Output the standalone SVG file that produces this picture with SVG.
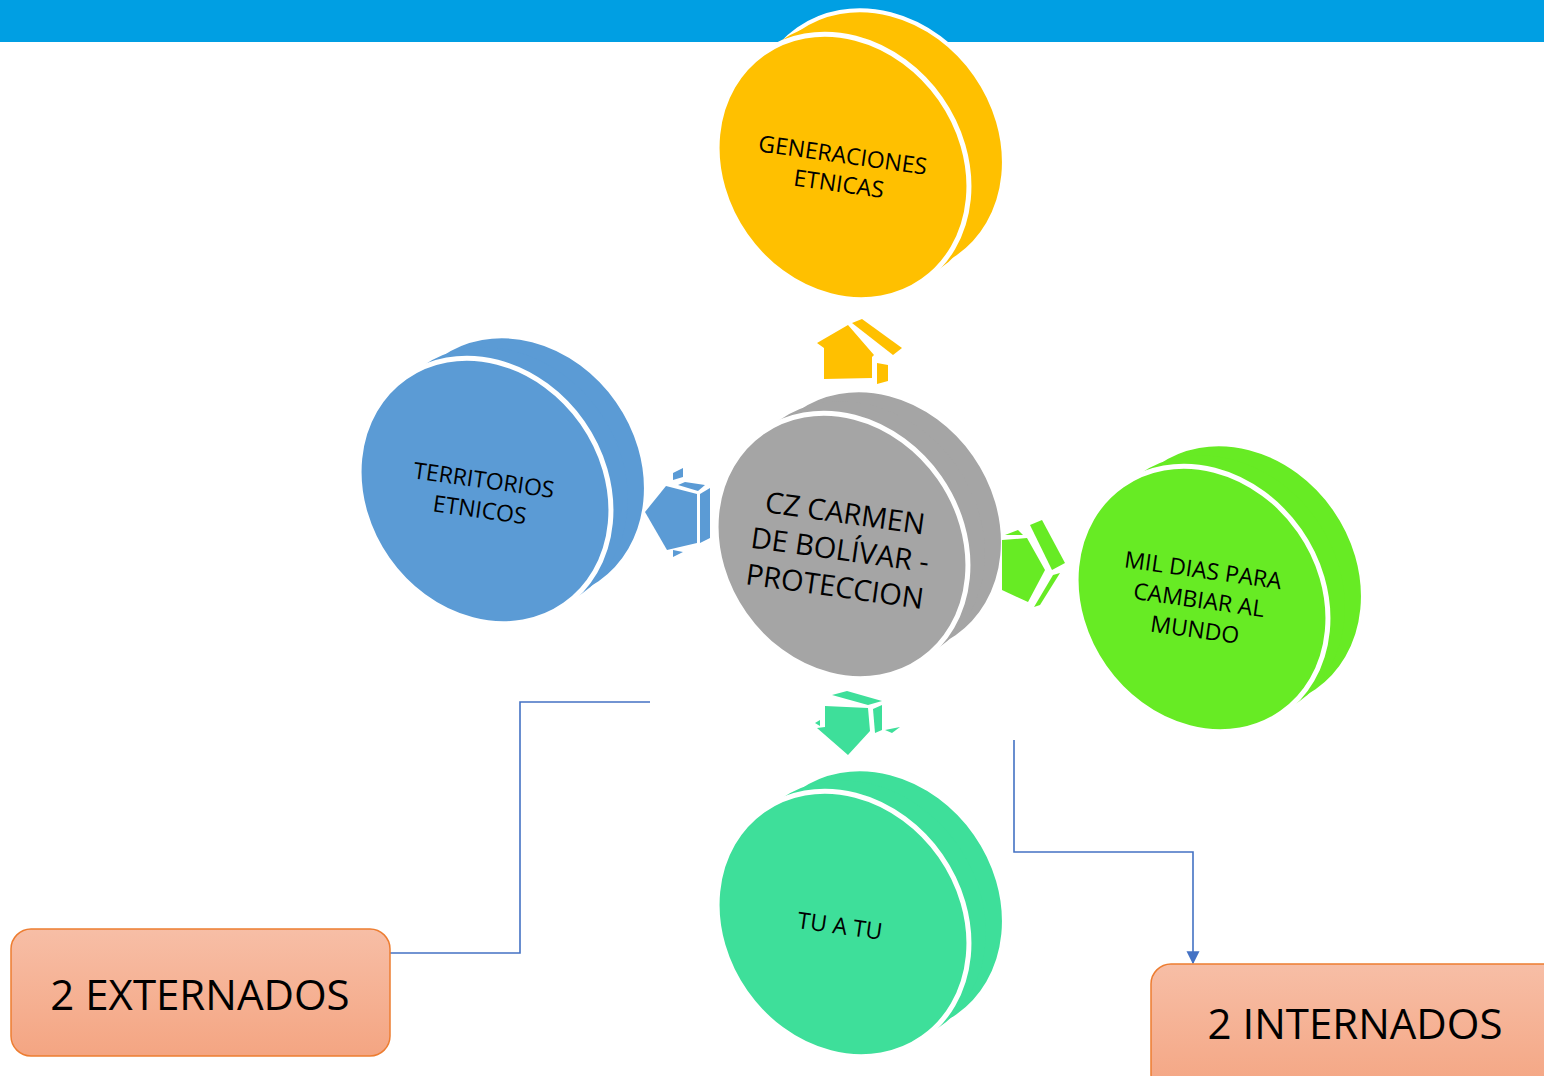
<svg xmlns="http://www.w3.org/2000/svg" width="1544" height="1076" viewBox="0 0 1544 1076">
<defs>
<style>
.t{font-family:"Open Sans","Liberation Sans",sans-serif;fill:#000;text-anchor:middle}
.s{font-size:23px}
.m{font-size:29px}
.box{stroke:#ED7D31;stroke-width:1.5;fill:url(#bg)}
.bt{font-family:"Open Sans","Liberation Sans",sans-serif;font-size:42px;fill:#000;text-anchor:middle}
.conn{fill:none;stroke:#4472C4;stroke-width:1.6}
.wb{stroke:#fff;stroke-width:4}
.wf{stroke:#fff;stroke-width:5}
</style>
<linearGradient id="bg" x1="0" y1="0" x2="0" y2="1">
<stop offset="0" stop-color="#F7BEA6"/>
<stop offset="1" stop-color="#F4A582"/>
</linearGradient>
<marker id="ah" viewBox="0 0 10 10" refX="9" refY="5" markerUnits="userSpaceOnUse" markerWidth="13" markerHeight="14" orient="auto">
<path d="M0,0 L10,5 L0,10 Z" fill="#4472C4"/>
</marker>
</defs>
<rect x="0" y="0" width="1544" height="42" fill="#009FE3"/>

<g id="connectors">
<polyline class="conn" points="650,702 520,702 520,953 390,953"/>
<polyline class="conn" points="1014,740 1014,852 1193,852 1193,963" marker-end="url(#ah)"/>
</g>

<g id="node-generaciones" fill="#FFC000">
<g transform="translate(843,167)">
<ellipse class="wb" transform="translate(35,-24) rotate(55)" rx="139" ry="119"/>
<ellipse transform="translate(17,-12) rotate(55)" rx="139" ry="119"/>
<ellipse class="wf" transform="rotate(55)" rx="139" ry="119"/>
</g>
<g transform="rotate(8 841 168)">
<text class="t s" x="841" y="163">GENERACIONES</text>
<text class="t s" x="841" y="192">ETNICAS</text>
</g>
</g>

<g id="node-centro" fill="#A5A5A5">
<g transform="translate(842,546)">
<ellipse class="wb" transform="translate(35,-23) rotate(55)" rx="139" ry="119"/>
<ellipse transform="translate(17,-12) rotate(55)" rx="139" ry="119"/>
<ellipse class="wf" transform="rotate(55)" rx="139" ry="119"/>
</g>
<g transform="rotate(8 840 550)">
<text class="t m" x="840" y="523">CZ CARMEN</text>
<text class="t m" x="840" y="560">DE BOLÍVAR -</text>
<text class="t m" x="840" y="597">PROTECCION</text>
</g>
</g>

<g id="node-territorios" fill="#5B9BD5">
<g transform="translate(485,491)">
<ellipse class="wb" transform="translate(35,-22) rotate(55)" rx="139" ry="119"/>
<ellipse transform="translate(17,-11) rotate(55)" rx="139" ry="119"/>
<ellipse class="wf" transform="rotate(55)" rx="139" ry="119"/>
</g>
<g transform="rotate(8 482 494)">
<text class="t s" x="482" y="488">TERRITORIOS</text>
<text class="t s" x="482" y="518">ETNICOS</text>
</g>
</g>

<g id="node-mildias" fill="#67EB24">
<g transform="translate(1202,599)">
<ellipse class="wb" transform="translate(35,-22) rotate(55)" rx="139" ry="119"/>
<ellipse transform="translate(17,-11) rotate(55)" rx="139" ry="119"/>
<ellipse class="wf" transform="rotate(55)" rx="139" ry="119"/>
</g>
<g transform="rotate(8 1199 600)">
<text class="t s" x="1199" y="578">MIL DIAS PARA</text>
<text class="t s" x="1199" y="608">CAMBIAR AL</text>
<text class="t s" x="1199" y="638">MUNDO</text>
</g>
</g>

<g id="node-tuatu" fill="#3EDF9A">
<g transform="translate(843,924)">
<ellipse class="wb" transform="translate(35,-22) rotate(55)" rx="139" ry="119"/>
<ellipse transform="translate(17,-11) rotate(55)" rx="139" ry="119"/>
<ellipse class="wf" transform="rotate(55)" rx="139" ry="119"/>
</g>
<g transform="rotate(8 840 926)">
<text class="t s" x="840" y="934">TU A TU</text>
</g>
</g>

<g id="arrow-up" fill="#FFC000">
<polygon points="817,343 848,325 874,355 872,357 872,378 824,379 824,348"/>
<polygon points="852,323 862,319 902,348 893,355"/>
<polygon points="877,363 888,365 888,381 877,384"/>
</g>
<g id="arrow-left" fill="#5B9BD5">
<polygon points="645,512 666,486 697,494 697,543 667,550"/>
<polygon points="678,485 685,482 705,485 698,491"/>
<polygon points="700,494 710,488 710,538 700,543"/>
<polygon points="673,473 683,468 683,477 673,480"/>
<polygon points="673,550 683,552 673,557"/>
</g>
<g id="arrow-right" fill="#67EB24">
<polygon points="1002,540 1027,538 1045,570 1028,602 1002,590"/>
<polygon points="1030,525 1042,520 1065,563 1052,570"/>
<polygon points="1053,575 1060,573 1040,605 1034,607"/>
<polygon points="1005,535 1018,530 1023,535"/>
</g>
<g id="arrow-down" fill="#3EDF9A">
<polygon points="832,695 847,691 882,701 868,705"/>
<polygon points="825,706 868,708 870,731 848,755 817,728 825,727"/>
<polygon points="873,709 882,705 882,730 875,733"/>
<polygon points="885,730 900,727 892,733"/>
<polygon points="815,723 820,720 820,726"/>
</g>

<g id="box-externados">
<rect class="box" x="11" y="929" width="379" height="127" rx="20"/>
<text class="bt" x="200" y="1010">2 EXTERNADOS</text>
</g>
<g id="box-internados">
<rect class="box" x="1151" y="964" width="420" height="130" rx="20"/>
<text class="bt" x="1355" y="1039">2 INTERNADOS</text>
</g>
</svg>
